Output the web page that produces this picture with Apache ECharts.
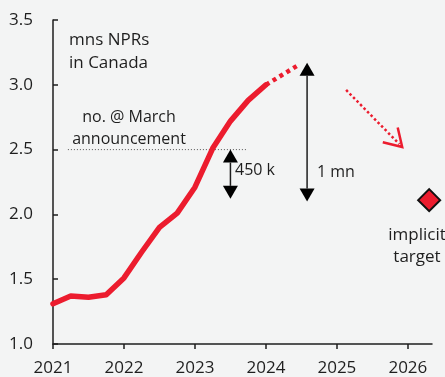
<!DOCTYPE html>
<html>
<head>
<meta charset="utf-8">
<script src="https://cdn.jsdelivr.net/npm/echarts@6/dist/echarts.min.js"></script>
<style>
  html, body { margin: 0; padding: 0; background: #f3f4f4; }
  #chart { width: 445px; height: 377px; }
</style>
</head>
<body>
<div id="chart"></div>
<script>
// quarterly stock of non-permanent residents, millions
const quarters = [2021, 2021.25, 2021.5, 2021.75, 2022, 2022.25, 2022.5, 2022.75, 2023, 2023.25, 2023.5, 2023.75, 2024];
const nprs = [1.31, 1.37, 1.36, 1.38, 1.51, 1.71, 1.90, 2.01, 2.21, 2.51, 2.72, 2.88, 3.00];
// dotted projection after the last observation
const projX = [2024, 2024.45];
const projY = [3.00, 3.15];
// level at the March announcement
const marchX = [2021.21, 2023.73];
const marchY = [2.5, 2.5];
// double arrows: x, top, bottom
const gapArrows = [[2023.5, 2.5, 2.12], [2024.58, 3.17, 2.10]];
// red dotted arrow: from, to
const cutArrow = [[2025.13, 2.96, 2025.92, 2.52]];
// implicit target
const target = [[2026.3, 2.11]];
const yearTicks = [2021, 2022, 2023, 2024, 2025, 2026];

const RED = '#ec1c2e';
const INK = '#1e1e1e';
const FONT = '"Open Sans", sans-serif';

const chart = echarts.init(document.getElementById('chart'));

function doubleArrow(params, api) {
  const x = api.value(0);
  const top = api.coord([x, api.value(1)]);
  const bot = api.coord([x, api.value(2)]);
  const hw = 7.5, hh = 13;
  return {
    type: 'group',
    children: [
      { type: 'line', shape: { x1: top[0], y1: top[1] + hh, x2: bot[0], y2: bot[1] - hh },
        style: { stroke: INK, lineWidth: 1.5 } },
      { type: 'polygon', shape: { points: [[top[0], top[1]], [top[0] - hw, top[1] + hh], [top[0] + hw, top[1] + hh]] },
        style: { fill: '#000' } },
      { type: 'polygon', shape: { points: [[bot[0], bot[1]], [bot[0] - hw, bot[1] - hh], [bot[0] + hw, bot[1] - hh]] },
        style: { fill: '#000' } }
    ]
  };
}

function redArrow(params, api) {
  const a = api.coord([api.value(0), api.value(1)]);
  const b = api.coord([api.value(2), api.value(3)]);
  const ang = Math.atan2(b[1] - a[1], b[0] - a[0]);
  const len = 20, spread = 0.55;
  const p1 = [b[0] - len * Math.cos(ang - spread), b[1] - len * Math.sin(ang - spread)];
  const p2 = [b[0] - len * Math.cos(ang + spread), b[1] - len * Math.sin(ang + spread)];
  return {
    type: 'group',
    children: [
      { type: 'line', shape: { x1: a[0], y1: a[1], x2: b[0] - 4 * Math.cos(ang), y2: b[1] - 4 * Math.sin(ang) },
        style: { stroke: RED, lineWidth: 2.5, lineDash: [2.5, 2.5] } },
      { type: 'polyline', shape: { points: [p1, b, p2] },
        style: { stroke: RED, lineWidth: 2.5, fill: null } }
    ]
  };
}

chart.setOption({
  backgroundColor: '#f3f4f4',
  animation: false,
  grid: { left: 53, right: 13, top: 20, bottom: 33 },
  xAxis: {
    type: 'value',
    min: 2021,
    max: 2026.34,
    interval: 1,
    splitLine: { show: false },
    axisLine: { lineStyle: { color: INK, width: 1.5 } },
    axisTick: { customValues: yearTicks, length: 5, lineStyle: { color: INK, width: 1.5 } },
    axisLabel: { customValues: yearTicks, color: INK, fontSize: 17, fontFamily: FONT, margin: 16,
      formatter: v => String(v) }
  },
  yAxis: {
    type: 'value',
    min: 1,
    max: 3.5,
    interval: 0.5,
    splitLine: { show: false },
    axisLine: { show: true, lineStyle: { color: INK, width: 1.5 } },
    axisTick: { show: true, inside: true, length: 5, lineStyle: { color: INK, width: 1.5 } },
    axisLabel: { color: INK, fontSize: 17, fontFamily: FONT, margin: 20,
      formatter: v => v.toFixed(1) }
  },
  series: [
    {
      type: 'line',
      data: marchX.map((x, i) => [x, marchY[i]]),
      symbol: 'none',
      lineStyle: { color: '#555', width: 1, type: [1, 2] },
      z: 1
    },
    {
      type: 'line',
      data: quarters.map((x, i) => [x, nprs[i]]),
      symbol: 'none',
      lineStyle: { color: RED, width: 5.5, cap: 'round', join: 'round' },
      z: 3
    },
    {
      type: 'line',
      data: projX.map((x, i) => [x, projY[i]]),
      symbol: 'none',
      lineStyle: { color: RED, width: 4.5, type: [4, 4] },
      z: 3
    },
    {
      type: 'custom',
      renderItem: doubleArrow,
      encode: { x: 0, y: [1, 2] },
      data: gapArrows,
      z: 4
    },
    {
      type: 'custom',
      renderItem: redArrow,
      encode: { x: [0, 2], y: [1, 3] },
      data: cutArrow,
      z: 4
    },
    {
      type: 'scatter',
      data: target,
      symbol: 'diamond',
      symbolSize: 22,
      itemStyle: { color: RED, opacity: 1, borderColor: '#111', borderWidth: 2 },
      z: 5
    }
  ],
  graphic: [
    { type: 'text', left: 69, top: 29, style: { text: 'mns NPRs\nin Canada', fill: INK, font: '17px ' + FONT, lineHeight: 23 } },
    { type: 'text', x: 129, y: 106, style: { text: 'no. @ March\nannouncement', fill: INK, font: '16px ' + FONT, lineHeight: 22, align: 'center' } },
    { type: 'text', x: 235, y: 162, style: { text: '450 k', fill: INK, font: '16px ' + FONT } },
    { type: 'text', x: 317, y: 164, style: { text: '1 mn', fill: INK, font: '16px ' + FONT } },
    { type: 'text', x: 417, y: 224, style: { text: 'implicit\ntarget', fill: INK, font: '17px ' + FONT, lineHeight: 22, align: 'center' } }
  ]
});
</script>
</body>
</html>
